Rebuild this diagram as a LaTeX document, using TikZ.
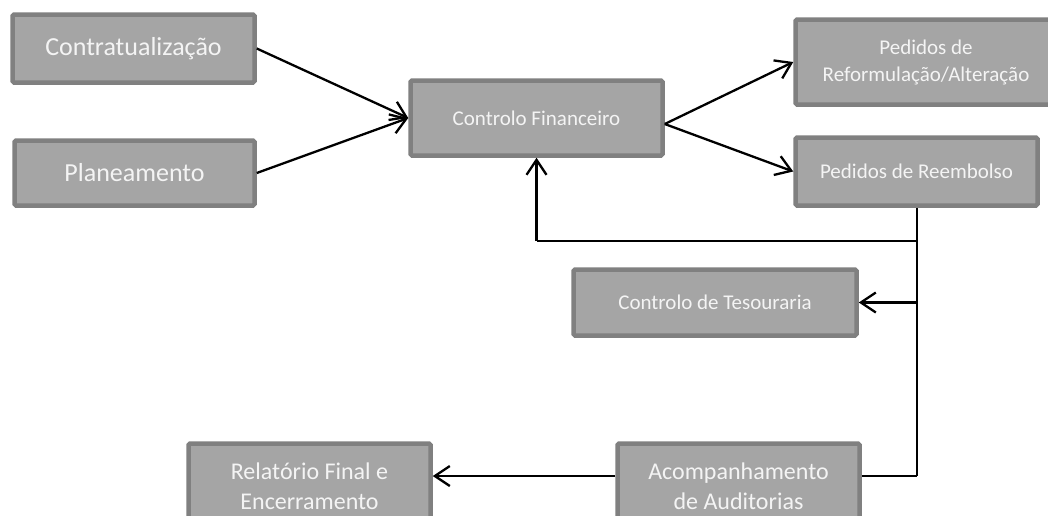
\documentclass[tikz,border=0pt]{standalone}
\usepackage{fontspec}
\setmainfont{Carlito}
\usetikzlibrary{arrows.meta}
\definecolor{boxfill}{HTML}{A5A5A5}
\definecolor{boxdraw}{HTML}{808080}
\definecolor{boxtext}{HTML}{F4F4F4}
\begin{document}
\begin{tikzpicture}[x=1pt,y=-1pt,
  box/.style={draw=boxdraw,fill=boxfill,line width=4.5pt,rounded corners=1.5pt,
    text=boxtext,align=center,inner sep=2pt,anchor=center},
  big/.style={font=\fontsize{26}{30}\selectfont},
  med/.style={font=\fontsize{24}{30}\selectfont},
  sml/.style={font=\fontsize{21}{27}\selectfont},
  link/.style={line width=2pt,black},
  arr/.style={line width=2.3pt,black,-{Straight Barb[length=15pt,width=20pt,line width=2.3pt]}}
]
\useasboundingbox (0,0) rectangle (1048,515);
\node[box,big,minimum width=242pt,minimum height=68pt] (contr) at (133.5,48.5) {Contratualização};
\node[box,big,minimum width=240pt,minimum height=65pt] (plan) at (134.5,173) {Planeamento};
\node[box,sml,minimum width=252pt,minimum height=75pt] (cf) at (536.5,118) {Controlo Financeiro};
\node[box,sml,minimum width=261pt,minimum height=85pt] (reform) at (926,62) {Pedidos de\\Reformulação/Alteração};
\node[box,sml,minimum width=242pt,minimum height=68pt] (reemb) at (916.5,171.5) {Pedidos de Reembolso};
\node[box,sml,minimum width=283pt,minimum height=66pt] (tes) at (715,302.5) {Controlo de Tesouraria};
\node[box,med,minimum width=242pt,minimum height=85pt] (acomp) at (738.5,486) {Acompanhamento\\de Auditorias};
\node[box,med,minimum width=242pt,minimum height=85pt] (rel) at (309.5,486) {Relatório Final e\\Encerramento};

\draw[arr] (contr.east) -- (cf.west);
\draw[arr] (plan.east) -- (cf.west);
\draw[arr] ([yshift=-6pt]cf.east) -- (reform.west);
\draw[arr] ([yshift=-6pt]cf.east) -- (reemb.west);
\coordinate (j1) at (reemb.south |- 0,241);
\coordinate (j2) at (reemb.south |- tes.east);
\coordinate (j3) at (reemb.south |- 0,476);
\draw[link] (reemb.south) -- (j3);
\draw[link] (j1) -- (cf.south |- j1);
\draw[arr] (cf.south |- j1) -- (cf.south);
\draw[arr] (j2) -- (tes.east);
\draw[link] (j3) -- (acomp.east |- j3);
\draw[arr] (acomp.west |- j3) -- (rel.east |- j3);
\end{tikzpicture}
\end{document}
